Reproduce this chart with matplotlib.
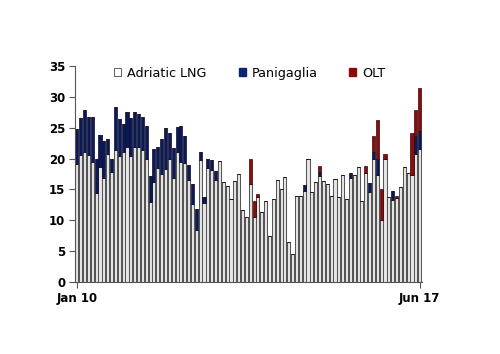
import numpy as np
import matplotlib
matplotlib.use("Agg")
from matplotlib import pyplot as plt
from matplotlib.patches import Patch

# monthly sendout, Jan 2010 - Jun 2017 (90 months)
adriatic = [19.1, 20.6, 21.1, 20.6, 19.5, 14.5, 18.7, 16.9, 20.8, 17.9,
            21.4, 20.4, 21.0, 21.9, 20.4, 21.9, 21.9, 21.4, 20.0, 12.9,
            16.2, 18.5, 17.5, 18.3, 19.9, 16.8, 21.1, 19.5, 19.2, 16.6,
            12.6, 8.5, 19.8, 12.8, 18.4, 18.1, 16.6, 19.6, 16.2, 15.5,
            13.4, 16.3, 17.5, 11.6, 10.5, 15.8, 10.6, 13.7, 11.4, 13.2,
            7.5, 13.5, 16.5, 15.1, 17.0, 6.5, 4.6, 14.0, 13.9, 14.7,
            19.9, 14.6, 16.2, 17.1, 16.3, 15.8, 14.0, 16.7, 13.8, 17.4,
            13.5, 16.8, 17.3, 18.6, 13.1, 17.6, 14.6, 19.9, 17.3, 10.1,
            20.0, 13.8, 13.3, 13.6, 15.4, 18.7, 17.7, 17.3, 20.7, 21.5]
panigaglia = [5.7, 6.0, 6.8, 6.1, 7.3, 5.5, 5.1, 6.0, 2.4, 2.1,
              6.9, 6.0, 4.6, 5.7, 6.1, 5.6, 5.3, 5.3, 5.2, 4.2,
              5.3, 3.3, 5.6, 6.6, 4.3, 4.9, 4.0, 5.8, 4.5, 2.3,
              3.3, 3.3, 1.3, 0.9, 1.6, 1.7, 1.4, 0.0, 0.0, 0.0,
              0.0, 0.0, 0.0, 0.0, 0.0, 0.0, 0.0, 0.0, 0.0, 0.0,
              0.0, 0.0, 0.0, 0.0, 0.0, 0.0, 0.0, 0.0, 0.0, 1.0,
              0.0, 0.0, 0.0, 0.8, 0.0, 0.0, 0.0, 0.0, 0.0, 0.0,
              0.0, 0.8, 0.0, 0.0, 0.0, 0.0, 1.4, 1.2, 2.6, 0.0,
              0.0, 0.0, 1.4, 0.0, 0.0, 0.0, 0.0, 0.0, 2.9, 2.9]
olt = [0.0] * 45 + [4.1, 2.6, 0.5] + [0.0] * 15 + [0.9] + [0.0] * 11 + \
      [1.2, 0.0, 2.5, 6.4, 4.9, 0.7, 0.0, 0.0, 0.3, 0.0, 0.0, 0.0, 6.8, 4.2, 7.1]

x_labels = ["Jan 10", "Jun 17"]

adriatic = np.array(adriatic)
panigaglia = np.array(panigaglia)
olt = np.array(olt)
x = np.arange(len(adriatic))

fig = plt.figure(figsize=(5, 3.54), dpi=100)
ax = fig.add_axes([0.15, 0.2034, 0.694, 0.6102])

w = 0.8
ax.bar(x, adriatic, w, color="#e6e6e6", edgecolor="#555555", linewidth=0.75)
ax.bar(x, panigaglia, w, bottom=adriatic, color="#0d1856", edgecolor="#080d2e",
       linewidth=0.5)
ax.bar(x, olt, w, bottom=adriatic + panigaglia, color="#880d0d", edgecolor="#3a0505",
       linewidth=0.5)

ax.set_ylim(0, 35)
ax.set_yticks(range(0, 36, 5))
ax.set_xlim(-0.5, 89.6)
ax.set_xticks([0, 89])
ax.set_xticklabels(x_labels)

for s in ["top", "right"]:
    ax.spines[s].set_visible(False)
for s in ["left", "bottom"]:
    ax.spines[s].set_color("#555555")
ax.tick_params(axis="both", length=4, color="#555555", labelsize=8.5, pad=3)
for t in ax.get_xticklabels() + ax.get_yticklabels():
    t.set_fontweight("bold")

handles = [Patch(facecolor="white", edgecolor="#444444", linewidth=0.6),
           Patch(facecolor="#0c2470", edgecolor="#0c2470"),
           Patch(facecolor="#8b0a0a", edgecolor="#8b0a0a")]
ax.legend(handles, ["Adriatic LNG", "Panigaglia", "OLT"],
          loc="upper center", bbox_to_anchor=(0.504, 1.02), ncol=3, frameon=False,
          fontsize=9.2, handlelength=0.55, handleheight=0.55, handletextpad=0.45,
          columnspacing=2.5, borderaxespad=0)

fig.savefig("out.png", dpi=100)
